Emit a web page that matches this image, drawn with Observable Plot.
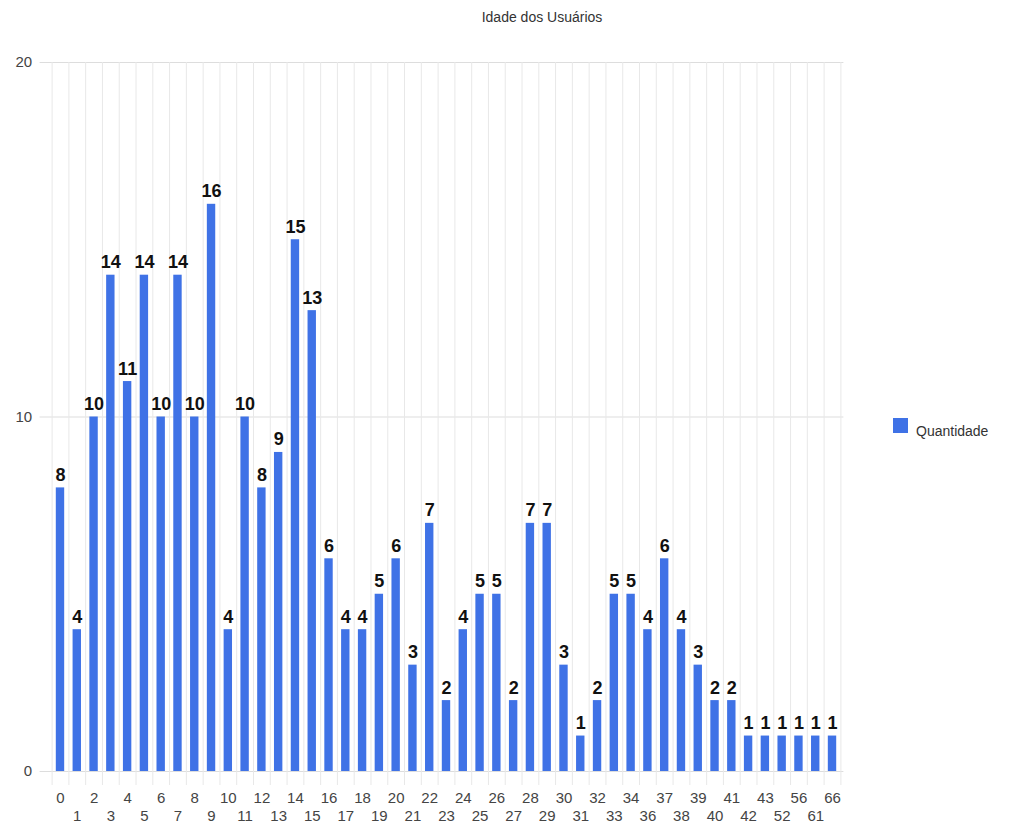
<!DOCTYPE html>
<html>
<head>
<meta charset="utf-8">
<script src="https://cdn.jsdelivr.net/npm/d3@7"></script>
<script src="https://cdn.jsdelivr.net/npm/@observablehq/plot@0.6"></script>
<style>
  body { margin: 0; background: #fff; font-family: "Liberation Sans", Arial, sans-serif; }
  #wrap { position: relative; width: 1027px; height: 827px; }
  #title { position: absolute; left: 0; width: 1084px; top: 9px; text-align: center; font-size: 14px; color: #333; }
  #legend { position: absolute; left: 893px; top: 418px; font-size: 14px; color: #333; }
  #legend .sw { position: absolute; left: 0; top: 0; width: 15px; height: 15px; background: #3f72e6; }
  #legend span { position: absolute; left: 23px; top: 5px; white-space: nowrap; }
</style>
</head>
<body>
<div id="wrap">
  <div id="chart"></div>
  <div id="title">Idade dos Usuários</div>
  <div id="legend"><div class="sw"></div><span>Quantidade</span></div>
</div>
<script>
const ages = ["0","1","2","3","4","5","6","7","8","9","10","11","12","13","14","15","16","17","18","19","20","21","22","23","24","25","26","27","28","29","30","31","32","33","34","36","37","38","39","40","41","42","43","52","56","61","66"];
const counts = [8,4,10,14,11,14,10,14,10,16,4,10,8,9,15,13,6,4,4,5,6,3,7,2,4,5,5,2,7,7,3,1,2,5,5,4,6,4,3,2,2,1,1,1,1,1,1];
const yTicks = [0, 10, 20];
const seriesName = "Quantidade";

const data = ages.map((a, i) => ({age: a, count: counts[i], row: i % 2}));
const W = 1027, H = 827, ML = 51.6, MR = 1027 - 840.4, MT = 62, MB = 56;
const step = (W - ML - MR) / ages.length;
const color = "#3f72e6";

const chart = Plot.plot({
  width: W, height: H,
  marginLeft: ML, marginRight: MR, marginTop: MT, marginBottom: MB,
  style: {fontFamily: "Liberation Sans, Arial, sans-serif", background: "#fff"},
  x: {type: "band", domain: ages, paddingInner: 0.5, paddingOuter: 0.25, axis: null},
  y: {domain: [0, 20], axis: null},
  marks: [
    Plot.ruleY(yTicks, {y: d => d, stroke: "#ddd", strokeWidth: 1, insetLeft: -12, insetRight: -3}),
    Plot.ruleX(ages, {x: d => d, dx: -step / 2, stroke: "#e8e8e8", strokeWidth: 1, insetBottom: -14}),
    Plot.ruleX([ages[ages.length - 1]], {x: d => d, dx: step / 2, stroke: "#e8e8e8", strokeWidth: 1, insetBottom: -14}),
    Plot.text(yTicks, {y: d => d, frameAnchor: "left", dx: -20, textAnchor: "end", text: d => String(d), fontSize: 15, fill: "#444"}),
    Plot.barY(data, {x: "age", y: "count", fill: color}),
    Plot.text(data, {x: "age", y: "count", text: d => String(d.count), lineAnchor: "bottom", dy: -7, fontSize: 18, fontWeight: "bold", fill: "#111"}),
    Plot.text(data.filter(d => d.row === 0), {x: "age", y: () => 0, text: "age", dy: 27, fontSize: 15, fill: "#444"}),
    Plot.text(data.filter(d => d.row === 1), {x: "age", y: () => 0, text: "age", dy: 45, fontSize: 15, fill: "#444"})
  ]
});
document.getElementById("chart").appendChild(chart);
</script>
</body>
</html>
